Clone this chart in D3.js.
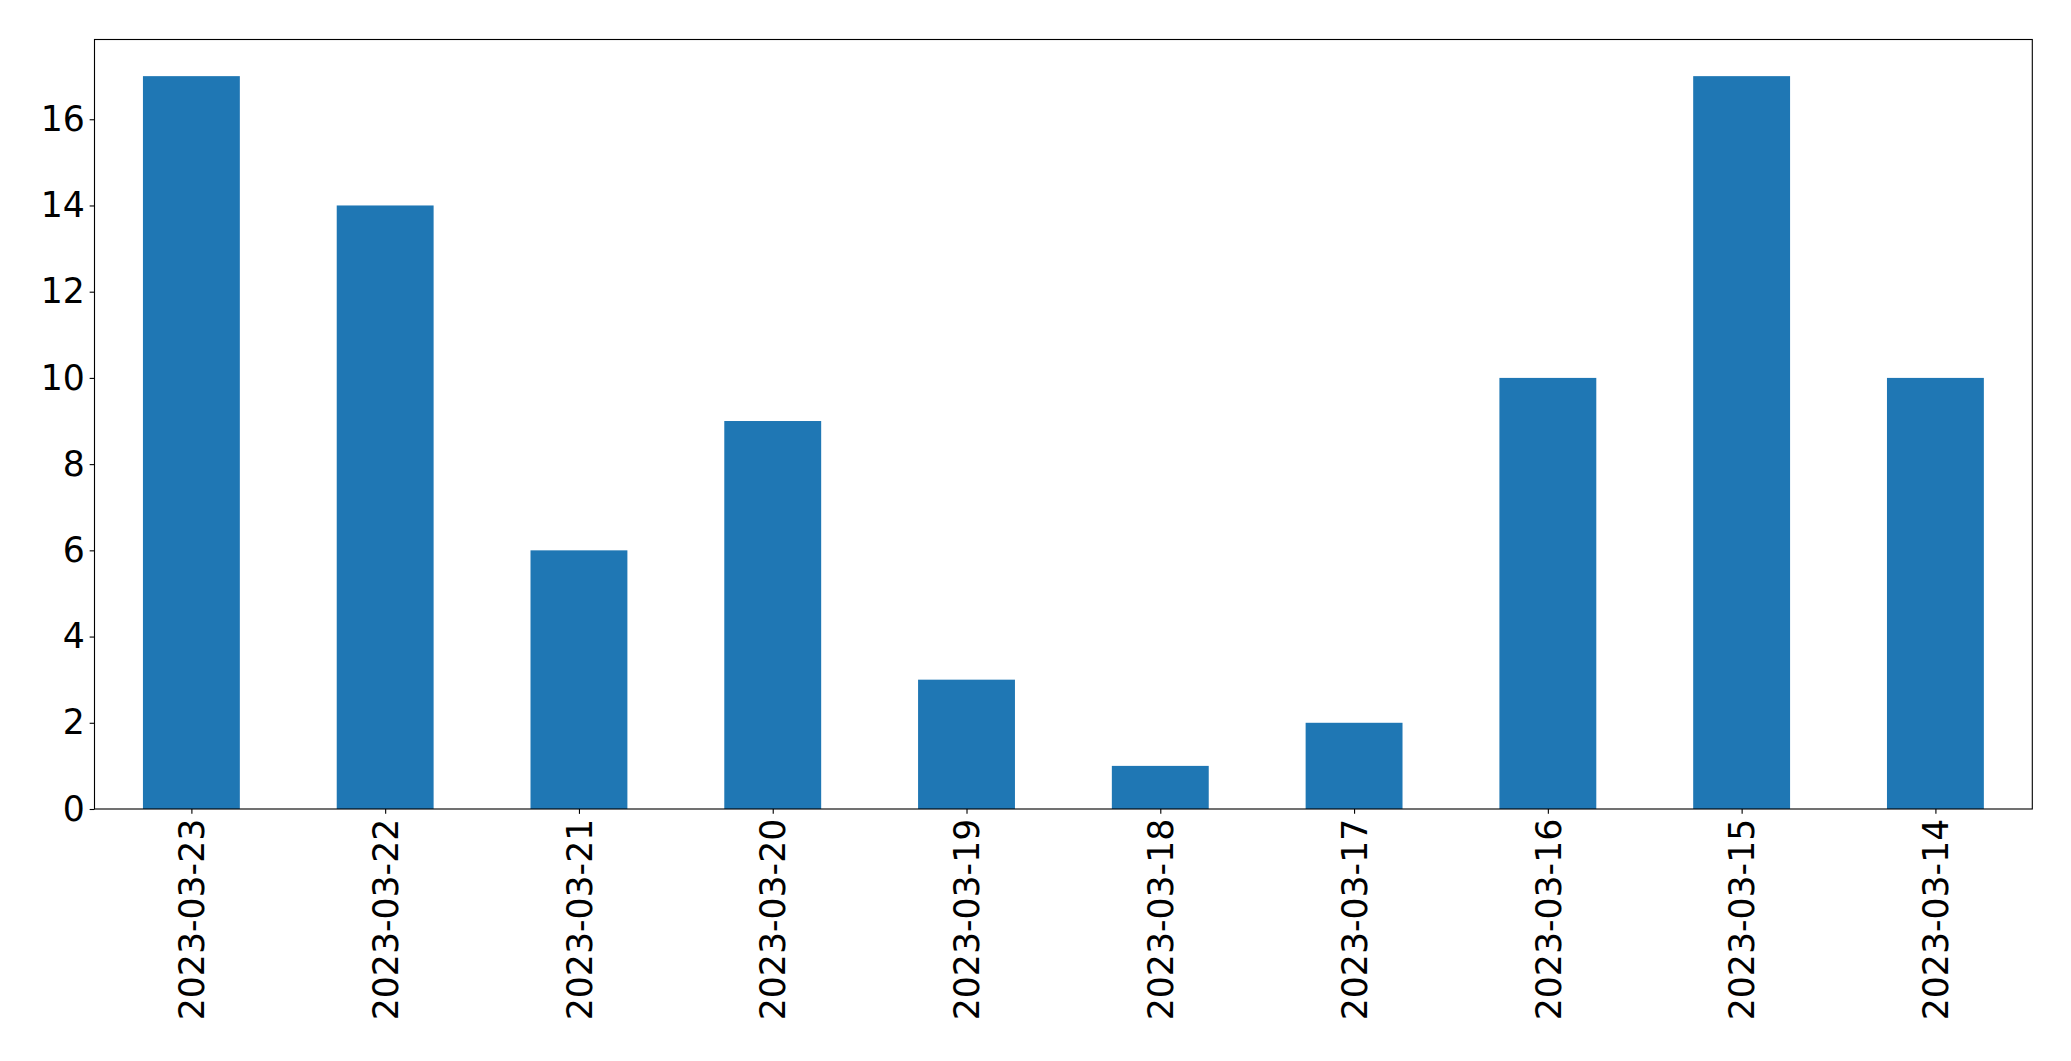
<!DOCTYPE html>
<html><head><meta charset="utf-8">
<script src="https://cdn.jsdelivr.net/npm/d3@7"></script>
<style>body{margin:0;background:#fff}svg{display:block}text{font-family:"DejaVu Sans",sans-serif}</style>
</head><body>
<script>
const categories = ["2023-03-23","2023-03-22","2023-03-21","2023-03-20","2023-03-19","2023-03-18","2023-03-17","2023-03-16","2023-03-15","2023-03-14"];
const values = [17,14,6,9,3,1,2,10,17,10];
const yTicks = [0,2,4,6,8,10,12,14,16];

const W = 2071, H = 1061;
const m = {left:94.5, right:W-2032.3, top:39.5, bottom:H-809};
const iw = W-m.left-m.right, ih = H-m.top-m.bottom;
const fs = 34.7, tick = 4.86, pad = 4.86;

const svg = d3.select("body").append("svg").attr("width",W).attr("height",H);
const g = svg.append("g").attr("transform",`translate(${m.left},${m.top})`);

const x = d3.scaleLinear().domain([-0.5, categories.length-0.5]).range([0, iw]);
const y = d3.scaleLinear().domain([0, d3.max(values)*1.05]).range([ih, 0]);

g.selectAll("rect.bar").data(values).join("rect").attr("class","bar")
  .attr("x",(d,i)=>x(i-0.25)).attr("width",x(0.25)-x(-0.25))
  .attr("y",d=>y(d)).attr("height",d=>y(0)-y(d)).attr("fill","#1f77b4");

const ya = g.append("g").call(d3.axisLeft(y).tickValues(yTicks).tickSize(tick).tickPadding(pad).tickFormat(d3.format("d")));
const xa = g.append("g").attr("transform",`translate(0,${ih})`)
  .call(d3.axisBottom(x).tickValues(d3.range(categories.length)).tickSize(tick).tickPadding(pad).tickFormat(i=>categories[i]));
[ya,xa].forEach(a=>{a.select(".domain").remove();a.selectAll("line").attr("stroke","#000").attr("stroke-width",1.11);
  a.selectAll("text").attr("font-size",fs).attr("fill","#000").attr("font-family","DejaVu Sans");});
xa.selectAll("text").attr("transform","rotate(-90)").attr("text-anchor","end")
  .attr("x",-(tick+pad)).attr("y",0).attr("dy","0.35em");

g.append("rect").attr("width",iw).attr("height",ih).attr("fill","none").attr("stroke","#000").attr("stroke-width",1.11);
</script>
</body></html>
